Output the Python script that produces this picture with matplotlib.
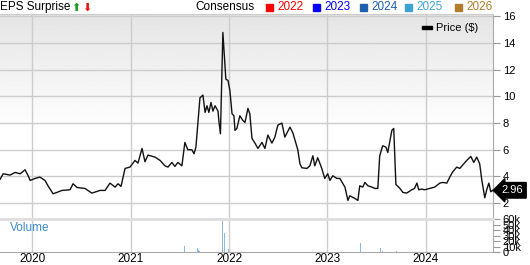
import numpy as np
import pandas as pd
import matplotlib
matplotlib.use("Agg")
import matplotlib.pyplot as plt

plt.rcParams["font.family"] = ["Liberation Sans", "DejaVu Sans"]

# price history
PRICE_DATES = [
    "2019-09-04", "2019-09-16", "2019-10-11", "2019-10-30", "2019-11-18", "2019-12-06",
    "2019-12-17", "2019-12-25", "2020-01-12", "2020-01-30", "2020-02-18", "2020-02-29",
    "2020-03-19", "2020-04-02", "2020-04-21", "2020-05-21", "2020-06-01", "2020-06-16",
    "2020-07-15", "2020-08-10", "2020-09-09", "2020-09-28", "2020-10-16", "2020-11-04",
    "2020-11-15", "2020-11-26", "2020-12-11", "2020-12-29", "2021-01-17", "2021-01-28",
    "2021-02-12", "2021-02-23", "2021-03-06", "2021-04-01", "2021-04-20", "2021-05-08",
    "2021-05-19", "2021-06-03", "2021-06-14", "2021-06-25", "2021-07-10", "2021-07-21",
    "2021-08-01", "2021-08-16", "2021-08-24", "2021-08-31", "2021-09-15", "2021-09-26",
    "2021-10-04", "2021-10-11", "2021-10-18", "2021-10-26", "2021-11-02", "2021-11-10",
    "2021-11-21", "2021-11-24", "2021-11-30", "2021-12-09", "2021-12-20", "2021-12-28",
    "2022-01-04", "2022-01-12", "2022-01-19", "2022-01-23", "2022-01-30", "2022-02-10",
    "2022-02-21", "2022-03-01", "2022-03-12", "2022-03-19", "2022-03-27", "2022-04-07",
    "2022-04-18", "2022-05-03", "2022-05-14", "2022-05-25", "2022-06-09", "2022-06-20",
    "2022-07-01", "2022-07-16", "2022-07-27", "2022-08-15", "2022-08-26", "2022-09-13",
    "2022-09-21", "2022-09-28", "2022-10-17", "2022-10-28", "2022-11-08", "2022-11-15",
    "2022-11-26", "2022-12-11", "2022-12-22", "2023-01-02", "2023-01-10", "2023-01-21",
    "2023-02-05", "2023-02-16", "2023-03-07", "2023-03-18", "2023-03-25", "2023-04-13",
    "2023-04-24", "2023-05-01", "2023-05-12", "2023-05-20", "2023-05-31", "2023-06-15",
    "2023-06-26", "2023-07-07", "2023-07-14", "2023-07-25", "2023-08-06", "2023-08-13",
    "2023-08-28", "2023-09-04", "2023-09-12", "2023-09-27", "2023-10-08", "2023-10-22",
    "2023-11-10", "2023-11-20", "2023-11-29", "2023-12-06", "2023-12-17", "2023-12-28",
    "2024-01-16", "2024-02-03", "2024-02-22", "2024-03-04", "2024-03-19", "2024-03-30",
    "2024-04-10", "2024-04-25", "2024-05-06", "2024-05-17", "2024-06-01", "2024-06-16",
    "2024-06-27", "2024-07-08", "2024-07-19", "2024-07-27", "2024-08-03", "2024-08-07",
    "2024-08-14", "2024-08-22", "2024-08-29", "2024-09-06",
]
PRICES = [
    3.78, 4.2, 4.1, 4.3, 4.2, 4.5,
    4.07, 3.7, 3.85, 3.95, 3.7, 3.3,
    2.7, 2.8, 2.95, 3.0, 3.45, 3.17,
    3.1, 2.75, 2.95, 2.95, 3.5, 3.2,
    3.45, 3.25, 4.6, 4.7, 5.2, 5.0,
    6.1, 5.1, 5.6, 5.45, 5.2, 4.8,
    4.7, 5.05, 4.75, 5.05, 4.8, 6.55,
    6.0, 6.0, 5.7, 6.2, 9.9, 10.1,
    8.8, 9.3, 8.8, 9.55, 8.9, 9.3,
    8.9, 8.2, 7.2, 14.8, 11.3, 11.2,
    10.45, 8.7, 8.55, 7.45, 7.6, 8.55,
    8.2, 8.05, 9.1, 8.7, 6.85, 6.5,
    6.1, 6.55, 6.1, 7.1, 6.5, 6.95,
    7.85, 8.0, 6.95, 7.7, 7.25, 6.0,
    4.95, 4.65, 4.6, 4.8, 5.55, 4.8,
    5.4, 4.6, 3.85, 4.2, 3.7, 4.05,
    3.85, 3.85, 3.2, 2.2, 2.55, 2.35,
    2.2, 3.3, 3.2, 3.55, 3.3, 3.2,
    3.1, 3.1, 5.55, 6.3, 6.2, 5.8,
    7.45, 7.6, 3.4, 3.1, 2.8, 2.75,
    3.0, 3.1, 3.5, 3.0, 3.05, 3.0,
    3.1, 3.2, 3.5, 3.55, 3.5, 3.95,
    4.35, 4.7, 4.6, 4.85, 5.2, 5.5,
    5.05, 5.45, 4.95, 3.7, 2.85, 2.4,
    3.0, 3.5, 2.85, 2.96,
]

VOLUME_DATES = [
    "2019-10-15", "2019-12-10", "2020-02-05", "2020-04-10", "2020-07-01", "2020-07-08",
    "2020-09-15", "2020-11-20", "2021-01-20", "2021-03-15", "2021-05-20", "2021-07-21",
    "2021-09-07", "2021-09-11", "2021-09-15", "2021-10-10", "2021-12-09", "2021-12-16",
    "2021-12-31", "2022-02-15", "2022-04-10", "2022-06-20", "2022-09-01", "2022-11-15",
    "2023-02-01", "2023-05-05", "2023-07-18", "2023-07-25", "2023-09-16", "2023-11-20",
    "2024-01-25", "2024-04-10", "2024-06-15", "2024-08-20",
]
VOLUMES = [
    400, 500, 500, 600, 1200, 1000,
    600, 700, 500, 800, 900, 12000,
    8000, 5000, 3000, 1500, 57000, 34000,
    7000, 1200, 1500, 800, 600, 700,
    500, 17000, 8000, 2500, 2000, 800,
    600, 700, 600, 900,
]

YEARS = [2020, 2021, 2022, 2023, 2024]
PRICE_TICKS = [2, 4, 6, 8, 10, 12, 14, 16]
VOL_TICKS = [0, 10000, 20000, 30000, 40000, 50000, 60000]
VOL_LABELS = ["0", "10k", "20k", "30k", "40k", "50k", "60k"]
CONSENSUS = ["2022", "2023", "2024", "2025", "2026"]
CONSENSUS_COLORS = ["#ff0000", "#0000ff", "#1f5fae", "#3fa3d2", "#b07b2c"]
LAST_PRICE = 2.96

GRID = "#cccccc"
X_START = pd.Timestamp("2019-09-04")
X_END = pd.Timestamp("2024-09-06")

pdates = pd.to_datetime(PRICE_DATES)
vdates = pd.to_datetime(VOLUME_DATES)

fig = plt.figure(figsize=(5.3, 2.65), dpi=100)
ax = fig.add_axes([0, 0.177, 0.930, 0.770])
vax = fig.add_axes([0, 0.0475, 0.930, 0.126], sharex=ax)

# gradient background of price panel
frac = np.linspace(1, 0, 256)
shade = np.clip((frac - 0.43) / 0.57, 0, 1)
vals = 1 - shade * (1 - 0.895)
ax.imshow(vals[:, None], cmap="gray", vmin=0, vmax=1, extent=[0, 1, 0, 1],
          transform=ax.transAxes, aspect="auto", zorder=0)

ax.plot(pdates, PRICES, color="#111111", lw=1.0, zorder=3)
ax.set_xlim(X_START, X_END)
ax.set_ylim(0.875, 16.18)

year_ticks = [pd.Timestamp(f"{y}-01-01") for y in YEARS]
for a in (ax, vax):
    for t in year_ticks:
        a.axvline(t, color=GRID, lw=1, zorder=1)
for p in PRICE_TICKS:
    ax.axhline(p, color=GRID, lw=1, zorder=1)

ax.yaxis.tick_right()
ax.set_yticks(PRICE_TICKS)
ax.set_yticklabels([str(p) for p in PRICE_TICKS])
ax.tick_params(axis="y", length=5, color="#999999", labelsize=8, pad=2)
ax.tick_params(axis="x", bottom=False, labelbottom=False)
for s in ["left", "bottom"]:
    ax.spines[s].set_visible(False)
ax.spines["top"].set_color(GRID)
ax.spines["right"].set_color("#aaaaaa")

# volume panel
vax.bar(vdates, VOLUMES, width=3.5, color="#8ab8e2", zorder=2)
vax.set_ylim(0, 60000)
vax.yaxis.tick_right()
vax.set_yticks(VOL_TICKS)
vax.set_yticklabels(VOL_LABELS)
vax.tick_params(axis="y", length=5, color="#999999", labelsize=8, pad=2)
vax.set_xticks(year_ticks)
vax.set_xticklabels([str(y) for y in YEARS])
vax.tick_params(axis="x", length=0, labelsize=8.5, pad=0.5)
vax.spines["left"].set_visible(False)
vax.spines["top"].set_color("#dddddd")
vax.spines["top"].set_linewidth(2)
vax.spines["right"].set_color("#aaaaaa")
vax.spines["bottom"].set_color("#aaaaaa")
vax.text(0.02, 0.72, "Volume", transform=vax.transAxes, fontsize=8.5,
         color="#3d8bcd", va="center", ha="left")

# last price tag
ax.annotate(f"{LAST_PRICE:.2f}", xy=(1.0, LAST_PRICE), xycoords=("axes fraction", "data"),
            xytext=(1.018, LAST_PRICE), textcoords=("axes fraction", "data"),
            fontsize=8, color="white", va="center", ha="left",
            bbox=dict(boxstyle="larrow,pad=0.25", fc="black", ec="black"),
            annotation_clip=False, zorder=5)

# price legend
ax.add_patch(plt.Rectangle((0.857, 0.925), 0.02, 0.018, transform=ax.transAxes,
                           color="black", clip_on=False, zorder=4))
ax.text(0.885, 0.934, "Price ($)", transform=ax.transAxes, fontsize=8,
        va="center", ha="left", zorder=4)

# header
fig.text(0.0, 0.973, "EPS Surprise", fontsize=8.5, va="center", ha="left")
fig.text(0.135, 0.970, "\u2b06", fontsize=8, color="#1a9a1a", family="DejaVu Sans",
         va="center", ha="left")
fig.text(0.155, 0.970, "\u2b07", fontsize=8, color="#ee1111", family="DejaVu Sans",
         va="center", ha="left")
fig.text(0.368, 0.973, "Consensus", fontsize=8.5, va="center", ha="left")
sq_x = [0.502, 0.591, 0.679, 0.764, 0.859]
for x0, label, col in zip(sq_x, CONSENSUS, CONSENSUS_COLORS):
    fig.patches.append(plt.Rectangle((x0, 0.958), 0.0135, 0.027, transform=fig.transFigure,
                                     color=col, figure=fig))
    fig.text(x0 + 0.022, 0.973, label, fontsize=8.5, color=col, va="center", ha="left")

fig.savefig("out.png", dpi=100)
